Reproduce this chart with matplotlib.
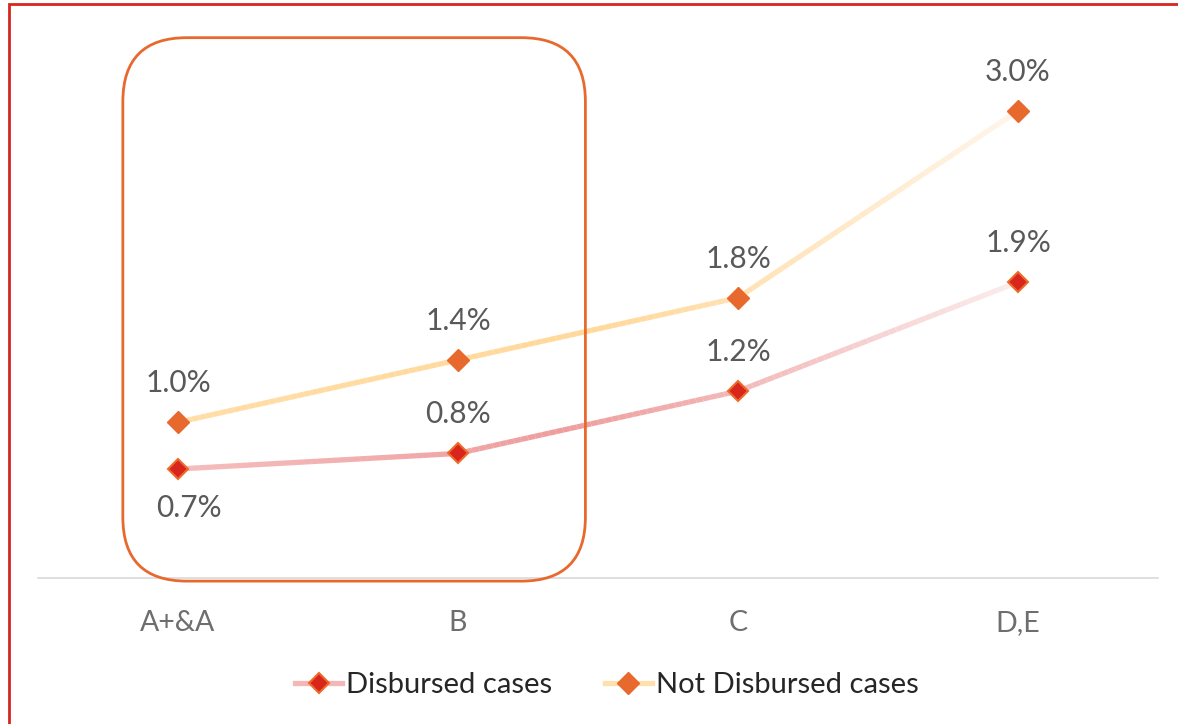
import numpy as np
import matplotlib
matplotlib.use("Agg")
import matplotlib.pyplot as plt
from matplotlib.collections import LineCollection
from matplotlib.colors import LinearSegmentedColormap
from matplotlib.lines import Line2D
from matplotlib.patches import FancyBboxPatch, Rectangle
from matplotlib.transforms import IdentityTransform

plt.rcParams['font.family'] = ['Lato', 'DejaVu Sans']

categories = ["A+&A", "B", "C", "D,E"]
disbursed = [0.7, 0.8, 1.2, 1.9]        # %
not_disbursed = [1.0, 1.4, 1.8, 3.0]    # %
series_names = ["Disbursed cases", "Not Disbursed cases"]

# gradient stops for each line (left -> right)
disb_cmap = LinearSegmentedColormap.from_list(
    "disb", [(0, "#F5BDBD"), (0.45, "#EE9D9D"), (0.6, "#F1AFAF"), (1, "#FBEDED")])
notd_cmap = LinearSegmentedColormap.from_list(
    "notd", [(0, "#FFDDA6"), (0.5, "#FFD89A"), (1, "#FFF5EA")])

W, H = 1178, 724
fig = plt.figure(figsize=(W / 100, H / 100), dpi=100)
ax = fig.add_axes([38 / W, (H - 578) / H, 1120 / W, 545 / H])

x = np.arange(len(categories))
ax.set_xlim(-0.5, len(categories) - 0.5)
ax.set_ylim(0, 3.5)


def gradient_line(xs, ys, cmap, lw):
    # split each segment into short pieces so the colour can fade along x
    pts = []
    for i in range(len(xs) - 1):
        t = np.linspace(0, 1, 40, endpoint=(i == len(xs) - 2))
        pts.append(np.column_stack([xs[i] + t * (xs[i + 1] - xs[i]),
                                    ys[i] + t * (ys[i + 1] - ys[i])]))
    pts = np.vstack(pts)
    segs = np.stack([pts[:-1], pts[1:]], axis=1)
    frac = (segs[:, 0, 0] - xs[0]) / (xs[-1] - xs[0])
    lc = LineCollection(segs, colors=cmap(frac), linewidths=lw,
                        capstyle="butt", joinstyle="round", zorder=2)
    ax.add_collection(lc)


gradient_line(x, not_disbursed, notd_cmap, 3.8)
gradient_line(x, disbursed, disb_cmap, 3.8)

ax.plot(x, not_disbursed, ls="none", marker="D", ms=11.5,
        mfc="#E8692D", mec="#E8692D", zorder=3)
ax.plot(x, disbursed, ls="none", marker="D", ms=10.5,
        mfc="#D9261C", mec="#EE6A2A", mew=1.5, zorder=3)

label_kw = dict(ha="center", fontsize=21.5, color="#595959")
for xi, v in zip(x, not_disbursed):
    ax.annotate(f"{v:.1f}%", (xi, v), xytext=(0, 18), textcoords="offset points",
                va="bottom", **label_kw)
for i, (xi, v) in enumerate(zip(x, disbursed)):
    if i == 0:
        ax.annotate(f"{v:.1f}%", (xi, v), xytext=(8, -18), textcoords="offset points",
                    va="top", **label_kw)
    else:
        ax.annotate(f"{v:.1f}%", (xi, v), xytext=(0, 18), textcoords="offset points",
                    va="bottom", **label_kw)

ax.set_xticks(x)
ax.set_xticklabels(categories, fontsize=20.5, color="#6E6E6E")
ax.tick_params(axis="x", length=0, pad=23)
ax.set_yticks([])
for s in ["top", "left", "right"]:
    ax.spines[s].set_visible(False)
ax.spines["bottom"].set_color("#D9D9D9")
ax.spines["bottom"].set_linewidth(1.2)
ax.set_facecolor("none")

# rounded box around the first two groups
fig.canvas.draw()
(bx0, by0) = ax.transData.transform((-0.197, -0.02))
(bx1, by1) = ax.transData.transform((1.455, 3.47))
box = FancyBboxPatch((bx0, by0), bx1 - bx0, by1 - by0,
                     boxstyle="round,pad=0,rounding_size=64",
                     transform=IdentityTransform(), fill=False,
                     ec="#E8692D", lw=2.0, zorder=4)
fig.patches.append(box)

# red frame, open at the right and bottom edges
frame = Rectangle((9 / W, -0.1), 1.2, (H - 4) / H + 0.1, transform=fig.transFigure,
                  fill=False, ec="#D7261E", lw=2)
fig.patches.append(frame)

handles = [
    Line2D([], [], color="#F4B6B6", lw=3.8, marker="D", ms=10.5,
           mfc="#D9261C", mec="#EE6A2A", mew=1.5),
    Line2D([], [], color="#FFE0AD", lw=3.8, marker="D", ms=11.5,
           mfc="#E8692D", mec="#E8692D"),
]
fig.legend(handles, series_names, loc="center", bbox_to_anchor=(607 / W, (H - 685) / H),
           ncol=2, frameon=False, fontsize=21, labelcolor="#262626",
           handlelength=1.6, handletextpad=0.15, columnspacing=1.8)

fig.savefig("out.png", dpi=100, facecolor="white")
